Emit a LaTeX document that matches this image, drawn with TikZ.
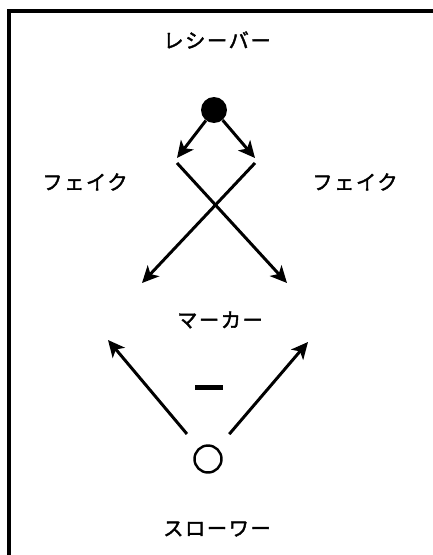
\documentclass[tikz,border=0pt]{standalone}
\usepackage{fontspec}
\usetikzlibrary{arrows.meta}
\newfontfamily\jpfont[LetterSpace=8,FakeBold=2]{Noto Sans CJK JP}

\begin{document}
\begin{tikzpicture}[x=0.02cm,y=-0.02cm,>={Stealth[length=9.5pt,width=9pt,inset=2.5pt]},
  lbl/.style={font=\jpfont\fontsize{11.5}{13}\selectfont,inner sep=0pt},
  run/.style={->,line width=1.7pt}]
\useasboundingbox (0,0) rectangle (433,555);
\draw[line width=2pt] (433,11)--(9,11)--(9,555);
% players
\node[circle,fill,inner sep=0pt,minimum size=0.52cm] (rcv) at (214,110) {};
\node[circle,draw,line width=1.4pt,inner sep=0pt,minimum size=0.54cm] (thr) at (208,459) {};
\node[lbl] (rcvlbl) at (217,40) {レシーバー};
\node[lbl] (fakeLlbl) at (85,182) {フェイク};
\node[lbl] (fakeRlbl) at (355,182) {フェイク};
\node[lbl] (mrklbl) at (220,320) {マーカー};
\node[lbl] (thrlbl) at (217,529) {スローワー};
\node[fill,inner sep=0pt,minimum width=0.56cm,minimum height=0.1cm] (dash) at (209,387) {};
% route
\coordinate (fakeL) at (177,158);
\coordinate (fakeR) at (255,158);
\coordinate (cutL) at (177,163);
\coordinate (cutR) at (255,163);
\coordinate (endL) at (142,283);
\coordinate (endR) at (287,283);
\coordinate (passL) at (108,340);
\coordinate (passR) at (308,342);
\draw[run] (rcv) -- (fakeL);
\draw[run] (rcv) -- (fakeR);
\draw[run] (cutL) -- (endR);
\draw[run] (cutR) -- (endL);
\draw[run,shorten <=0.36cm] (thr) -- (passL);
\draw[run,shorten <=0.36cm] (thr) -- (passR);
\end{tikzpicture}
\end{document}
